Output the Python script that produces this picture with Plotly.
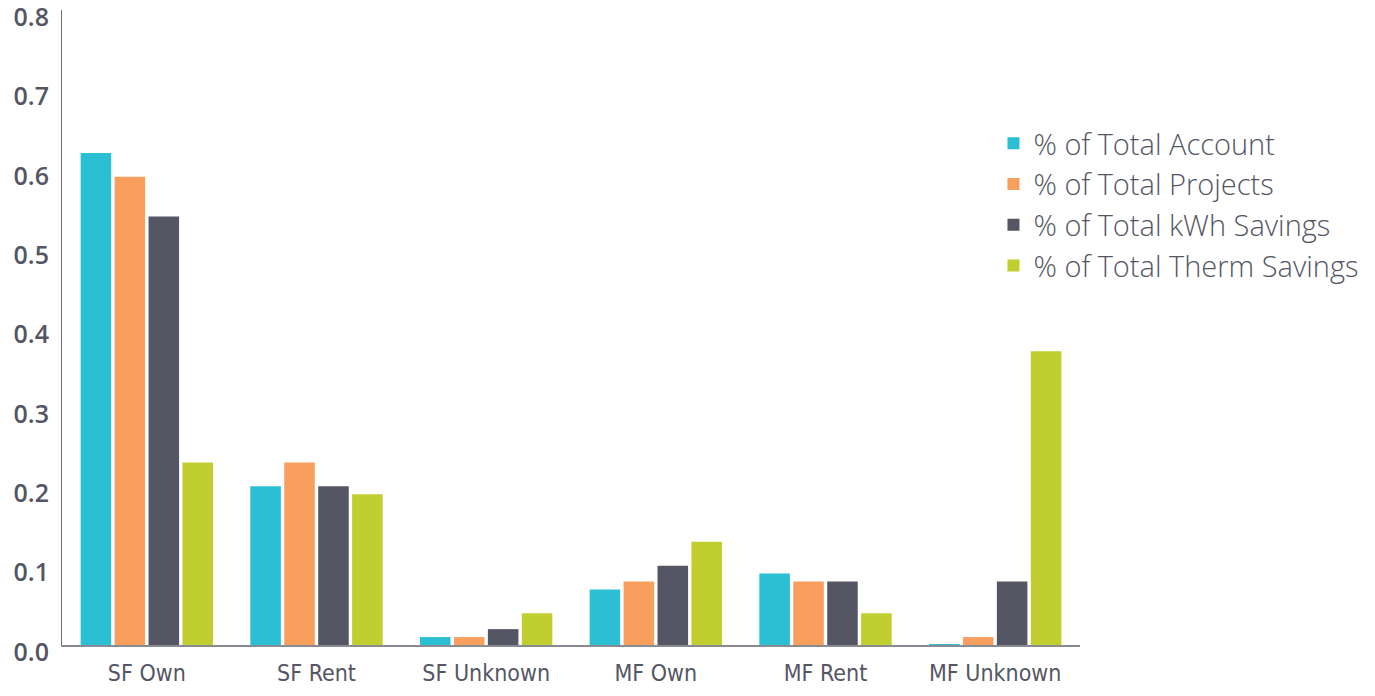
import plotly.graph_objects as go

categories = ["SF Own", "SF Rent", "SF Unknown", "MF Own", "MF Rent", "MF Unknown"]
series_names = ["% of Total Account", "% of Total Projects", "% of Total kWh Savings", "% of Total Therm Savings"]
total_account = [0.62, 0.20, 0.01, 0.07, 0.09, 0.001]
total_projects = [0.59, 0.23, 0.01, 0.08, 0.08, 0.01]
total_kwh = [0.54, 0.20, 0.02, 0.10, 0.08, 0.08]
total_therm = [0.23, 0.19, 0.04, 0.13, 0.04, 0.37]
y_ticks = [0.0, 0.1, 0.2, 0.3, 0.4, 0.5, 0.6, 0.7, 0.8]
y_tick_labels = ["0.0", "0.1", "0.2", "0.3", "0.4", "0.5", "0.6", "0.7", "0.8"]

colors = ["#2BBFD4", "#F99F5E", "#545663", "#C1CE2F"]
text_color = "#545663"

fig = go.Figure()
for name, vals, col in zip(series_names, [total_account, total_projects, total_kwh, total_therm], colors):
    fig.add_trace(go.Bar(x=categories, y=vals, name=name, marker_color=col, marker_line_width=0))

# page body has an 8px margin, so the figure is sized to fit the window
fig.update_layout(
    width=1359, height=680,
    barmode="group", bargap=0.2, bargroupgap=0.1,
    plot_bgcolor="white", paper_bgcolor="white",
    margin=dict(l=54, r=287, t=2, b=43, autoexpand=False),
    font=dict(family="Open Sans, sans-serif", color=text_color),
    legend=dict(x=0.915, y=0.83, xanchor="left", yanchor="top",
                font=dict(size=29, family="Open Sans, sans-serif", color=text_color, weight=300),
                tracegroupgap=0, itemsizing="constant"),
)
fig.update_yaxes(range=[0, 0.8], tickvals=y_ticks, ticktext=y_tick_labels, automargin=False,
                 showgrid=False, zeroline=False, showline=True, linecolor="#6b6d78", linewidth=1,
                 ticks="", ticklabelstandoff=7, ticklabelshift=7, ticklabeloverflow="allow",
                 tickfont=dict(size=25, family="Open Sans, sans-serif", color=text_color, weight=600))
fig.update_xaxes(showgrid=False, showline=True, linecolor="#8a8b92", linewidth=2, ticks="",
                 ticklabelstandoff=6, automargin=False,
                 tickfont=dict(size=23, family="DejaVu Sans Condensed, Liberation Sans Narrow, sans-serif", color=text_color))

fig.write_html("out.html")
